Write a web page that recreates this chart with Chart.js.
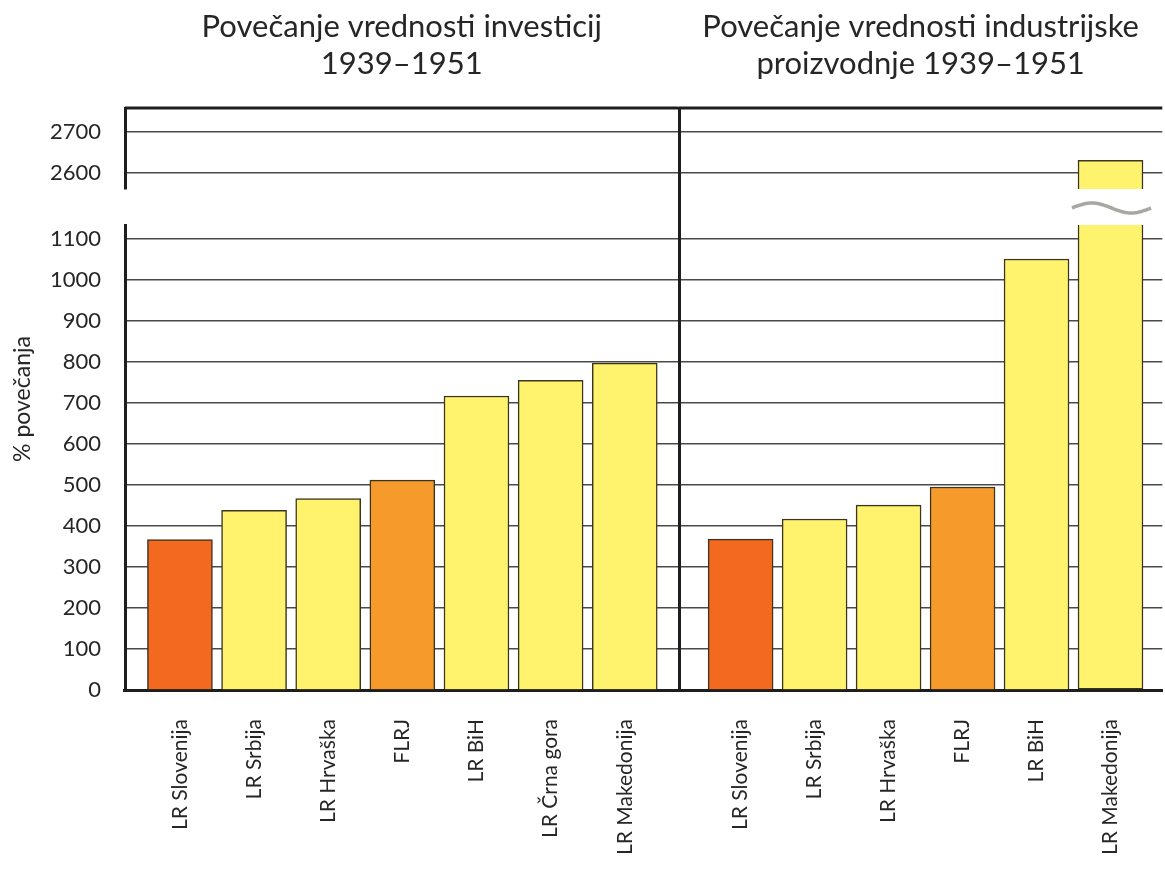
<!DOCTYPE html>
<html>
<head>
<meta charset="utf-8">
<title>Povečanje vrednosti investicij in industrijske proizvodnje 1939–1951</title>
<script src="https://cdn.jsdelivr.net/npm/chart.js@4.4.1/dist/chart.umd.min.js"></script>
<style>
  html, body { margin: 0; padding: 0; background: #fff; }
  #wrap { position: relative; width: 1165px; height: 871px; overflow: hidden; }
  canvas { position: absolute; top: 0; }
  #investChart { left: 0; }
  #industryChart { left: 669px; }
</style>
</head>
<body>
<div id="wrap">
  <canvas id="investChart" width="679" height="871"></canvas>
  <canvas id="industryChart" width="496" height="871"></canvas>
</div>
<script>
// data
const investLabels = ["LR Slovenija", "LR Srbija", "LR Hrvaška", "FLRJ", "LR BiH", "LR Črna gora", "LR Makedonija"];
const investValues = [367, 438, 467, 512, 717, 755, 797];

const industryLabels = ["LR Slovenija", "LR Srbija", "LR Hrvaška", "FLRJ", "LR BiH", "LR Makedonija"];
const industryValues = [368, 417, 451, 495, 1051, 2630];

const lowerTicks = [0, 100, 200, 300, 400, 500, 600, 700, 800, 900, 1000, 1100];
const upperTicks = [2600, 2700];

// broken axis: 0..LOWER_MAX below the break, UPPER_MIN..UPPER_MAX above it
const LOWER_MAX = 1134;
const UPPER_MIN = 2560;
const UPPER_MAX = 2758;

const TEXT = "#262626";
const AXIS = "#1e1e1e";
const GRID = "#4a4a4a";
const BAR_EDGE = "#3b3420";
const YELLOW = "#fff36e";
const highlight = { "LR Slovenija": "#f2691f", "FLRJ": "#f59a2b" };

Chart.defaults.font.family = "Lato, 'DejaVu Sans', sans-serif";
Chart.defaults.color = TEXT;

// top frame line + the "~" mark on bars that run through the break
const breakPlugin = {
  id: "breakMarks",
  afterDraw(chart) {
    const { ctx, chartArea, scales } = chart;
    ctx.save();
    ctx.strokeStyle = AXIS;
    ctx.lineWidth = 3;
    ctx.beginPath();
    ctx.moveTo(chartArea.left, chartArea.top);
    ctx.lineTo(chartArea.right, chartArea.top);
    ctx.stroke();

    const values = chart.config.options.rawValues;
    const meta = chart.getDatasetMeta(0);
    const gap = scales.yGap;
    const mid = (gap.top + gap.bottom) / 2;
    meta.data.forEach((bar, i) => {
      if (values[i] <= LOWER_MAX) return;
      const x0 = bar.x - bar.width / 2 - 6;
      const x1 = bar.x + bar.width / 2 + 8;
      ctx.strokeStyle = "#a7a9a0";
      ctx.lineWidth = 3.5;
      ctx.beginPath();
      for (let k = 0; k <= 40; k++) {
        const t = k / 40;
        const x = x0 + (x1 - x0) * t;
        const y = mid + 1 - 5 * Math.sin(t * 2 * Math.PI);
        if (k === 0) ctx.moveTo(x, y); else ctx.lineTo(x, y);
      }
      ctx.stroke();
    });
    ctx.restore();
  }
};

function buildChart(id, titleLines, labels, values, xMin, xMax, showAxis) {
  const colors = labels.map(l => highlight[l] || YELLOW);
  const lower = values.map((v, i) => ({ x: i, y: Math.min(v, LOWER_MAX) }));
  const upper = values.map((v, i) => ({ x: i, y: v > UPPER_MIN ? [UPPER_MIN, v] : null }));
  const axisWidth = showAxis ? 85 : 10;

  const barStyle = {
    backgroundColor: colors,
    borderColor: BAR_EDGE,
    borderWidth: 1.5,
    barThickness: 65,
    grouped: false
  };

  const yTickStyle = {
    display: showAxis,
    padding: 24,
    font: { size: 22 },
    color: TEXT,
    callback: v => String(v)
  };

  const scales = {
    x: {
      type: "linear",
      min: xMin,
      max: xMax,
      offset: false,
      grid: { display: false, drawTicks: false },
      border: { display: true, width: 3, color: AXIS },
      afterBuildTicks: s => { s.ticks = labels.map((_, i) => ({ value: i })); },
      ticks: {
        autoSkip: false,
        minRotation: 90,
        maxRotation: 90,
        padding: 29,
        font: { size: 21 },
        color: TEXT,
        callback: v => labels[v]
      },
      afterFit: s => { s.height = 181; }
    },
    yLow: {
      type: "linear",
      position: "left",
      stack: "v",
      stackWeight: 465,
      min: 0,
      max: LOWER_MAX,
      afterBuildTicks: s => { s.ticks = lowerTicks.map(v => ({ value: v })); },
      ticks: yTickStyle,
      grid: { drawTicks: false, color: GRID, lineWidth: 1.5 },
      border: { width: 3, color: AXIS },
      afterFit: s => { s.width = axisWidth; }
    },
    yGap: {
      type: "linear",
      position: "left",
      stack: "v",
      stackWeight: 36,
      min: LOWER_MAX,
      max: UPPER_MIN,
      afterBuildTicks: s => { s.ticks = []; },
      ticks: { display: false },
      grid: { display: false, drawTicks: false },
      border: { display: !showAxis, width: 3, color: AXIS },
      afterFit: s => { s.width = axisWidth; }
    },
    yUp: {
      type: "linear",
      position: "left",
      stack: "v",
      stackWeight: 81,
      min: UPPER_MIN,
      max: UPPER_MAX,
      afterBuildTicks: s => { s.ticks = upperTicks.map(v => ({ value: v })); },
      ticks: yTickStyle,
      grid: { drawTicks: false, color: GRID, lineWidth: 1.5 },
      border: { width: 3, color: AXIS },
      afterFit: s => { s.width = axisWidth; }
    }
  };

  if (showAxis) {
    scales.yTitle = {
      type: "linear",
      position: "left",
      afterBuildTicks: s => { s.ticks = []; },
      ticks: { display: false },
      grid: { display: false, drawTicks: false },
      border: { display: false },
      title: {
        display: true,
        text: "% povečanja",
        font: { size: 23 },
        color: TEXT,
        padding: { top: 9, bottom: 0 }
      },
      afterFit: s => { s.width = 40; }
    };
  }

  return new Chart(document.getElementById(id), {
    type: "bar",
    data: {
      datasets: [
        {
          ...barStyle,
          data: lower,
          yAxisID: "yLow",
          borderSkipped: ctx => (values[ctx.dataIndex] > LOWER_MAX ? "end" : "start")
        },
        { ...barStyle, data: upper, yAxisID: "yUp" }
      ]
    },
    options: {
      rawValues: values,
      responsive: false,
      animation: false,
      layout: { padding: 0 },
      plugins: {
        legend: { display: false },
        tooltip: { enabled: false },
        title: {
          display: true,
          text: titleLines,
          fullSize: false,
          color: TEXT,
          font: { size: 31, weight: "normal", lineHeight: 1.2 },
          padding: { top: 8, bottom: 25.6 }
        }
      },
      scales: scales
    },
    plugins: [breakPlugin]
  });
}

buildChart(
  "investChart",
  ["Povečanje vrednosti investicij", "1939–1951"],
  investLabels, investValues, -0.741, 6.725, true
);
buildChart(
  "industryChart",
  ["Povečanje vrednosti industrijske", "proizvodnje 1939–1951"],
  industryLabels, industryValues, -0.833, 5.70, false
);
</script>
</body>
</html>
